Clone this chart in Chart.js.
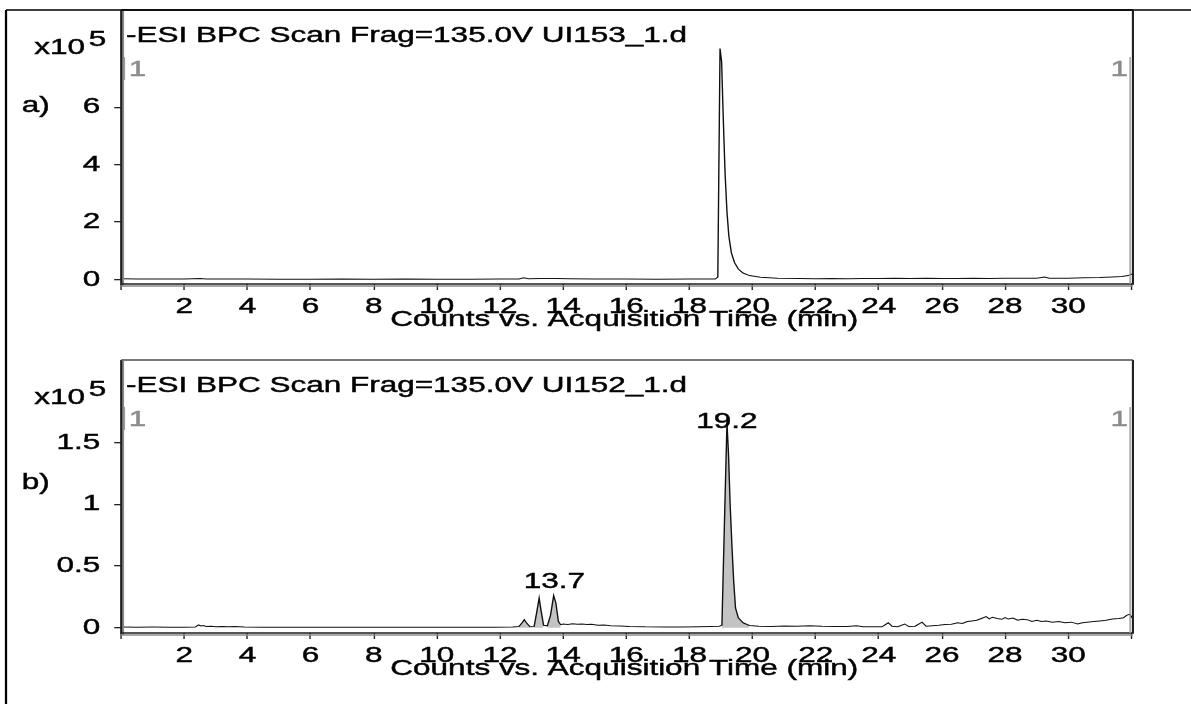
<!DOCTYPE html>
<html><head><meta charset="utf-8">
<script src="https://cdn.jsdelivr.net/npm/chart.js@4.4.1/dist/chart.umd.min.js"></script>
<style>
html,body{margin:0;padding:0;background:#fff;}
#wrap{position:relative;width:1191px;height:704px;overflow:hidden;background:#fff;}
canvas{position:absolute;left:0;}
</style></head><body>
<div id="wrap"><canvas id="cTop" style="top:0px"></canvas><canvas id="cBot" style="top:352px"></canvas></div>
<script>
// ---------------- DATA ----------------
const panelTitles = ['-ESI BPC Scan Frag=135.0V UI153_1.d', '-ESI BPC Scan Frag=135.0V UI152_1.d'];
const panelLetters = ['a)', 'b)'];
const xAxisTitle = 'Counts vs. Acquisition Time (min)';
const yScaleLabel = ['x10', '5'];

const xTickValues = [0,2,4,6,8,10,12,14,16,18,20,22,24,26,28,30,32];
const xTickLabels = ['', '2','4','6','8','10','12','14','16','18','20','22','24','26','28','30',''];

const yTickValuesA = [0, 2, 4, 6];
const yTickLabelsA = ['0', '2', '4', '6'];
const yTickValuesB = [0, 0.5, 1, 1.5];
const yTickLabelsB = ['0', '0.5', '1', '1.5'];

// panel a) UI153_1.d  (time in min, counts x10^5)
const timeA = [0.05,0.5,1,1.5,2,2.5,2.7,3,4,5,6,7,8,9,10,11,12,12.6,12.75,12.9,13.3,13.8,14.2,15,16,17,18,18.82,18.9,18.97,19.02,19.07,19.13,19.19,19.25,19.33,19.43,19.55,19.7,19.9,20.25,20.8,21.5,22,22.5,23,23.5,24,24.5,25,25.5,26,26.5,27,27.5,28,28.5,29,29.25,29.4,30,30.5,31,31.4,31.7,31.9,32.0,32.05];
const countsA = [0.02,0.01,0.01,0.01,0.01,0.03,0.01,0.01,0.01,0,0,0.01,0,0.01,0,0,0.01,0.01,0.05,0.02,0.03,0.03,0.02,0.01,0.01,0,0.01,0.01,0.08,8.05,7.6,5.7,3.7,2.35,1.5,0.92,0.58,0.36,0.22,0.13,0.07,0.04,0.03,0.02,0.03,0.02,0.03,0.03,0.04,0.03,0.04,0.03,0.03,0.04,0.03,0.04,0.04,0.04,0.08,0.04,0.04,0.05,0.06,0.08,0.1,0.13,0.18,0.15];

// panel b) UI152_1.d
const timeB = [0.05,0.5,1,1.5,2,2.35,2.45,2.52,2.6,2.7,2.85,3.0,3.2,3.4,3.6,3.9,4.5,5,5.5,6,7,8,9,10,11,11.8,12.4,12.6,12.7,12.77,12.85,12.95,13.08,13.16,13.24,13.3,13.38,13.5,13.6,13.7,13.77,13.85,13.92,14.0,14.15,14.3,14.45,14.6,14.75,14.9,15.1,15.3,15.5,15.8,16.1,16.6,17.2,17.8,18.3,18.7,18.95,19.03,19.11,19.19,19.24,19.29,19.35,19.4,19.46,19.55,19.7,19.9,20.2,20.6,21,21.4,21.8,22.2,22.6,23.0,23.3,23.5,23.8,24.1,24.3,24.42,24.6,24.82,24.95,25.15,25.37,25.5,25.7,25.9,26.1,26.3,26.5,26.65,26.8,26.95,27.1,27.25,27.4,27.5,27.6,27.75,27.9,28.0,28.1,28.25,28.4,28.55,28.7,28.85,29.0,29.15,29.3,29.5,29.7,29.9,30.1,30.3,30.45,30.6,30.8,31.0,31.2,31.4,31.6,31.75,31.85,31.95,32.0,32.05];
const countsB = [0.005,0.004,0.005,0.004,0.004,0.005,0.022,0.014,0.017,0.01,0.012,0.008,0.01,0.007,0.009,0.006,0.004,0.004,0.003,0.004,0.003,0.004,0.003,0.004,0.003,0.004,0.005,0.01,0.04,0.065,0.035,0.008,0.01,0.12,0.24,0.14,0.02,0.015,0.1,0.26,0.2,0.05,0.025,0.03,0.026,0.032,0.027,0.03,0.025,0.028,0.02,0.022,0.016,0.014,0.01,0.007,0.006,0.006,0.008,0.01,0.012,0.02,0.85,1.66,1.4,1.0,0.65,0.39,0.16,0.08,0.04,0.018,0.012,0.01,0.014,0.012,0.016,0.012,0.01,0.009,0.016,0.007,0.008,0.007,0.04,0.012,0.008,0.03,0.009,0.012,0.045,0.012,0.016,0.02,0.025,0.028,0.04,0.035,0.05,0.055,0.06,0.075,0.09,0.072,0.085,0.075,0.068,0.082,0.07,0.078,0.06,0.068,0.065,0.05,0.06,0.05,0.055,0.045,0.05,0.04,0.045,0.03,0.04,0.045,0.05,0.055,0.06,0.07,0.075,0.08,0.1,0.11,0.085,0.1];

// integrated (shaded) peaks in panel b), min
const peakRangesB = [[12.6,12.95],[13.08,13.38],[13.5,13.92],[19.03,19.9]];
const peakLabelTextB = ['13.7', '19.2'];
const peakLabelTimeB = [13.72, 19.19];
const peakLabelLevelB = [0.322, 1.618];

// ---------------- RENDERING ----------------
const LW = 851, PW = 1191, PH = 352;
const FONT = '"Liberation Sans", Arial, Helvetica, sans-serif';
const FS = 22.5;
const STROKE = 0.45;
Chart.defaults.font.family = FONT;
Chart.defaults.color = '#000';

const stretchPlugin = {
  id: 'stretch',
  beforeDraw(chart) {
    const s = chart.canvas.width / chart.width;
    chart.ctx.setTransform(s, 0, 0, 1, 0, 0);
  }
};

function txt(ctx, s, x, y, color) {
  ctx.fillStyle = color; ctx.strokeStyle = color; ctx.lineWidth = STROKE;
  ctx.fillText(s, x, y); ctx.strokeText(s, x, y);
}

function decoPlugin(p) {
  return {
    id: 'deco' + p.idx,
    afterDraw(chart) {
      const ctx = chart.ctx, ca = chart.chartArea;
      ctx.save();
      // outer figure border
      ctx.strokeStyle = '#000'; ctx.lineWidth = 1.6;
      ctx.beginPath();
      if (p.idx === 0) {
        ctx.moveTo(4.3, 10); ctx.lineTo(LW, 10);
        ctx.moveTo(4.3, 10); ctx.lineTo(4.3, PH);
      } else {
        ctx.moveTo(4.3, 0); ctx.lineTo(4.3, PH);
      }
      ctx.stroke();
      // plot frame shadow
      ctx.strokeStyle = '#8a8a8a'; ctx.lineWidth = 1.5;
      ctx.beginPath();
      ctx.moveTo(ca.left + 1.3, ca.top + 1); ctx.lineTo(ca.left + 1.3, ca.bottom + 2);
      ctx.moveTo(ca.left, ca.bottom + 2); ctx.lineTo(ca.right, ca.bottom + 2);
      ctx.stroke();
      // plot frame
      ctx.strokeStyle = '#1e1e1e'; ctx.lineWidth = 1.5;
      ctx.beginPath();
      ctx.moveTo(ca.left, ca.top); ctx.lineTo(ca.left, ca.bottom);
      ctx.lineTo(ca.right, ca.bottom); ctx.lineTo(ca.right, ca.top);
      ctx.stroke();
      ctx.strokeStyle = p.idx === 0 ? '#000' : '#4a4a4a';
      ctx.lineWidth = 1.6;
      ctx.beginPath(); ctx.moveTo(ca.left, ca.top); ctx.lineTo(ca.right, ca.top); ctx.stroke();
      // gray markers next to the "1"s
      ctx.strokeStyle = '#9a9a9a'; ctx.lineWidth = 1;
      ctx.beginPath();
      ctx.moveTo(ca.left + 2.3, ca.top + 47); ctx.lineTo(ca.left + 2.3, ca.top + 70);
      ctx.moveTo(ca.right - 2, ca.top + 47); ctx.lineTo(ca.right - 2, ca.bottom);
      ctx.stroke();
      // texts
      ctx.textBaseline = 'middle';
      ctx.textAlign = 'left';
      ctx.font = FS + 'px ' + FONT;
      txt(ctx, panelTitles[p.idx], 90, ca.top + 25.5, '#000');
      txt(ctx, yScaleLabel[0], 24.5, ca.top + 38, '#000');
      txt(ctx, yScaleLabel[1], 63.5, ca.top + 29.5, '#000');
      txt(ctx, panelLetters[p.idx], 15.5, p.letterY, '#000');
      txt(ctx, '1', 92, ca.top + 60, '#8c8c8c');
      ctx.textAlign = 'right';
      txt(ctx, '1', 806, ca.top + 60, '#8c8c8c');
      // x-axis title
      ctx.textAlign = 'center';
      const xs = chart.scales.x, ys = chart.scales.y;
      txt(ctx, xAxisTitle, (ca.left + ca.right) / 2 - 2, ca.bottom + 35.5, '#000');
      // peak labels
      if (p.peaks) {
        ctx.textBaseline = 'alphabetic';
        for (let i = 0; i < peakLabelTextB.length; i++) {
          txt(ctx, peakLabelTextB[i], xs.getPixelForValue(peakLabelTimeB[i]), ys.getPixelForValue(peakLabelLevelB[i]), '#000');
        }
      }
      ctx.restore();
    }
  };
}

function pts(t, c) { return t.map((v, i) => ({x: v, y: c[i]})); }

function makePanel(canvasId, p) {
  const canvas = document.getElementById(canvasId);
  canvas.width = LW; canvas.height = PH;
  const trace = pts(p.time, p.counts);
  const datasets = [{
    data: trace, borderColor: '#111', borderWidth: 1, pointRadius: 0, fill: false, tension: 0
  }];
  (p.ranges || []).forEach(r => {
    datasets.push({
      data: trace.filter(d => d.x >= r[0] && d.x <= r[1]),
      borderWidth: 0, borderColor: 'rgba(0,0,0,0)', backgroundColor: '#c3c3c3',
      pointRadius: 0, fill: 'origin', tension: 0
    });
  });
  const chart = new Chart(canvas, {
    type: 'line',
    data: {datasets},
    options: {
      responsive: false, animation: false, devicePixelRatio: 1, events: [],
      layout: {padding: {left: 0, right: LW - 809.5, top: p.top, bottom: 0}},
      plugins: {legend: {display: false}, tooltip: {enabled: false}},
      scales: {
        x: {
          type: 'linear', min: 0, max: 32.05,
          border: {display: false},
          grid: {display: true, drawOnChartArea: false, drawTicks: true, tickLength: 6, color: '#222', lineWidth: 1},
          afterBuildTicks: s => { s.ticks = xTickValues.map(v => ({value: v})); },
          ticks: {autoSkip: false, maxRotation: 0, padding: 3, color: '#000', font: {size: FS},
                  textStrokeColor: '#000', textStrokeWidth: STROKE,
                  callback: v => xTickLabels[xTickValues.indexOf(v)]},
          title: {display: false},
          afterFit: s => { s.height = PH - p.bottom; s.paddingLeft = 0; s.paddingRight = 0; }
        },
        y: {
          type: 'linear', min: p.ymin, max: p.ymax,
          border: {display: false},
          grid: {display: true, drawOnChartArea: false, drawTicks: true, tickLength: 5, color: '#222', lineWidth: 1.3},
          afterBuildTicks: s => { s.ticks = p.yVals.map(v => ({value: v})); },
          ticks: {autoSkip: false, padding: 10, color: '#000', font: {size: FS},
                  textStrokeColor: '#000', textStrokeWidth: STROKE,
                  callback: v => p.yLabs[p.yVals.indexOf(v)]},
          afterFit: s => { s.width = 86.6; s.paddingTop = 0; s.paddingBottom = 0; }
        }
      }
    },
    plugins: [stretchPlugin, decoPlugin(p)]
  });
  canvas.width = PW;
  canvas.style.width = PW + 'px';
  canvas.style.height = PH + 'px';
  chart.draw();
  return chart;
}

makePanel('cTop', {idx: 0, time: timeA, counts: countsA, top: 10, bottom: 284,
  ymin: -0.164, ymax: 9.393, yVals: yTickValuesA, yLabs: yTickLabelsA, letterY: 106});
makePanel('cBot', {idx: 1, time: timeB, counts: countsB, ranges: peakRangesB, peaks: true, top: 8, bottom: 281,
  ymin: -0.043, ymax: 2.169, yVals: yTickValuesB, yLabs: yTickLabelsB, letterY: 131});
</script>
</body></html>
